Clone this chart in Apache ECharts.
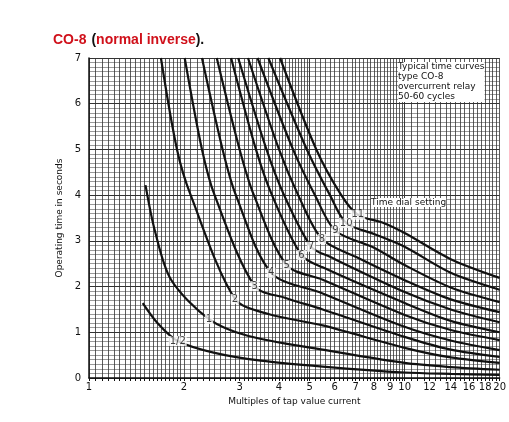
<!DOCTYPE html>
<html><head><meta charset="utf-8">
<script src="https://cdn.jsdelivr.net/npm/echarts@6/dist/echarts.min.js"></script>
<style>html,body{margin:0;padding:0;background:#fff}#c{width:509px;height:422px}</style>
</head><body><div id="c"></div>
<script>
const curveNames = ['1/2','1','2','3','4','5','6','7','8','9','10','11'];
const c_half = [[1.48,1.64],[1.65,1.2],[1.91,0.81],[2.5,0.55],[3.5,0.38],[5.5,0.25],[10,0.12],[14,0.09],[20,0.07]];
const c_1 = [[1.51,4.22],[1.62,3.2],[1.82,2.15],[2.40,1.29],[3.2,0.92],[5.5,0.62],[10,0.33],[14,0.24],[20,0.18]];
const c_2 = [[1.69,7],[1.9,5],[2.1,4],[2.90,1.73],[3.7,1.4],[5.5,1.15],[10,0.66],[14,0.45],[20,0.33]];
const c_3 = [[2.01,7],[2.28,5],[2.5,4],[3.35,2.01],[4.2,1.75],[5.5,1.5],[10,0.9],[14,0.62],[20,0.46]];
const c_4 = [[2.28,7],[2.65,5],[2.92,4],[3.78,2.30],[5.5,1.85],[10,1.12],[14,0.82],[20,0.61]];
const c_5 = [[2.54,7],[3.0,5],[3.33,4],[4.23,2.47],[5.5,2.15],[10,1.38],[14,1.05],[20,0.83]];
const c_6 = [[2.82,7],[3.38,5],[3.8,4],[4.71,2.69],[5.5,2.42],[10,1.64],[14,1.25],[20,1.0]];
const c_7 = [[2.97,7],[3.65,5],[4.15,4],[5.06,2.87],[5.8,2.65],[10,1.88],[14,1.5],[20,1.22]];
const c_8 = [[3.19,7],[4.0,5],[4.6,4],[5.47,3.04],[7,2.65],[10,2.14],[14,1.72],[20,1.44]];
const c_9 = [[3.42,7],[4.43,5],[5.2,4],[6.04,3.22],[8,2.85],[10,2.47],[14,1.98],[20,1.66]];
const c_10 = [[3.70,7],[4.9,5],[5.8,4],[6.53,3.39],[8,3.15],[10,2.87],[14,2.3],[20,1.93]];
const c_11 = [[4.03,7],[5.25,5],[6.3,4],[7.11,3.57],[8.5,3.4],[10,3.17],[14,2.6],[20,2.19]];
const curves = [c_half,c_1,c_2,c_3,c_4,c_5,c_6,c_7,c_8,c_9,c_10,c_11];
const labelIdx = [2,3,3,3,3,3,3,3,3,3,3,3];
const xTickLabels = [1,2,3,4,5,6,7,8,9,10,12,14,16,18,20];

const minorX = [];
for (let v=1; v<2; v+=0.05) minorX.push(+v.toFixed(2));
for (let v=2; v<5; v+=0.1) minorX.push(+v.toFixed(2));
for (let v=5; v<10; v+=0.2) minorX.push(+v.toFixed(2));
for (let v=10; v<=20; v+=0.5) minorX.push(+v.toFixed(2));

const series = curves.map((d,i)=>({
  type:'line', data:d, smooth:0.3, symbol:'none', silent:true,
  lineStyle:{color:'#111',width:2.2}, z:5
}));
series.push({
  type:'scatter', symbolSize:0, z:10,
  data: curves.map((d,i)=>({value:d[labelIdx[i]], name:curveNames[i]})),
  label:{show:true, position:'inside', formatter:'{b}', color:'#111', fontSize:10,
    fontFamily:'DejaVu Sans', backgroundColor:'#fff', padding:[0,1]}
});

const chart = echarts.init(document.getElementById('c'));
chart.setOption({
  animation:false,
  backgroundColor:'#fff',
  title:{text:'{r|CO-8} {k|(}{r|normal inverse}{k|).}', left:48, top:26,
    textStyle:{rich:{r:{color:'#d0101a',fontSize:14,fontWeight:'bold',fontFamily:'Liberation Sans'},
      k:{color:'#111',fontSize:14,fontWeight:'bold',fontFamily:'Liberation Sans'}}}},
  grid:{left:89,right:0,top:58,bottom:44},
  xAxis:{type:'log', logBase:10, min:1, max:20,
    name:'Multiples of tap value current', nameLocation:'middle', nameGap:18,
    nameTextStyle:{fontSize:9,color:'#111',fontFamily:'DejaVu Sans'},
    axisLine:{show:true,lineStyle:{color:'#111',width:1.5}},
    axisTick:{show:true, customValues:minorX, length:3, lineStyle:{color:'#111'}},
    axisLabel:{customValues:xTickLabels, fontSize:10, color:'#111', margin:4, fontFamily:'DejaVu Sans'},
    splitLine:{show:true, lineStyle:{color:'#333',width:0.8}}
  },
  yAxis:{type:'value', min:0, max:7, interval:1,
    name:'Operating time in seconds', nameLocation:'middle', nameGap:22, nameRotate:90,
    nameTextStyle:{fontSize:9,color:'#111',fontFamily:'DejaVu Sans'},
    axisLine:{show:true,lineStyle:{color:'#111',width:1.5}},
    axisTick:{show:false},
    axisLabel:{fontSize:10,color:'#111',margin:8,fontFamily:'DejaVu Sans'},
    splitLine:{show:true,lineStyle:{color:'#333',width:1}},
    minorTick:{show:false, splitNumber:10},
    minorSplitLine:{show:true,lineStyle:{color:'#555',width:0.6}}
  },
  graphic:[
    {type:'text', left:398, top:62, z:20, style:{text:'Typical time curves\ntype CO-8\novercurrent relay\n50-60 cycles',
      fill:'#111', font:'9px DejaVu Sans', lineHeight:10, backgroundColor:'#fff'}},
    {type:'text', left:371, top:198, z:20, style:{text:'Time dial setting',
      fill:'#111', font:'9px DejaVu Sans', backgroundColor:'#fff'}}
  ],
  series
});
</script></body></html>
